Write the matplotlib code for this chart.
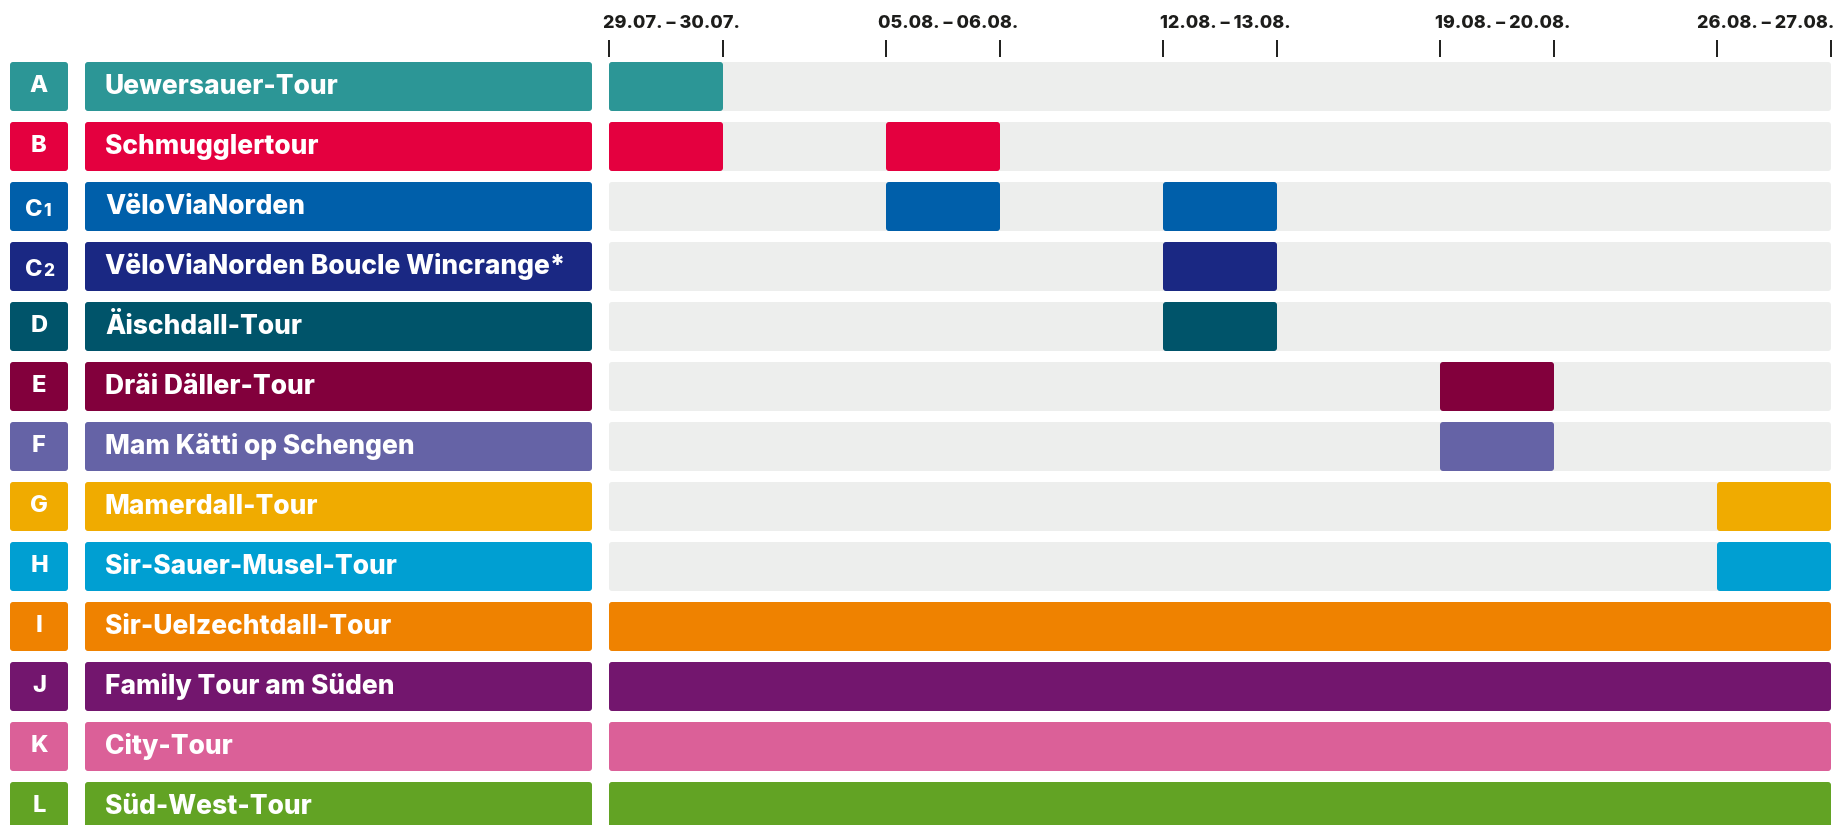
import matplotlib
matplotlib.use("Agg")
import matplotlib.pyplot as plt
from matplotlib.patches import FancyBboxPatch

plt.rcParams["font.family"] = ["Inter", "DejaVu Sans"]

# tours, top to bottom
letters = ["A", "B", "C", "C", "D", "E", "F", "G", "H", "I", "J", "K", "L"]
letter_subs = ["", "", "1", "2", "", "", "", "", "", "", "", "", ""]
names = [
    "Uewersauer-Tour",
    "Schmugglertour",
    "VëloViaNorden",
    "VëloViaNorden Boucle Wincrange*",
    "Äischdall-Tour",
    "Dräi Däller-Tour",
    "Mam Kätti op Schengen",
    "Mamerdall-Tour",
    "Sir-Sauer-Musel-Tour",
    "Sir-Uelzechtdall-Tour",
    "Family Tour am Süden",
    "City-Tour",
    "Süd-West-Tour",
]
colors = [
    "#2c9696", "#e4003f", "#005faa", "#1a2883", "#00546a", "#82003c", "#6563a6",
    "#f0ab00", "#009fd2", "#ef8200", "#73166e", "#db6098", "#62a324",
]
# weekend slots (index into periods) on which each tour runs; None = every weekend
tour_slots = [[0], [0, 1], [1, 2], [2], [2], [3], [3], [4], [4], None, None, None, None]
periods = ["29.07. – 30.07.", "05.08. – 06.08.", "12.08. – 13.08.",
           "19.08. – 20.08.", "26.08. – 27.08."]

W, H = 1837, 825
SLOT = 114 / 277          # width of a two-day slot in week units
BAR_H = 49 / 60
GREY = "#edeeed"
INK = "#1d1d1b"

fig = plt.figure(figsize=(W / 100, H / 100), dpi=100)

n = len(names)
y_top = -BAR_H / 2 - 5 / 60
y_bot = y_top + (H - 57) / 60


def rounded(ax, x0, y0, w, h, color, rx, aspect):
    ax.add_patch(FancyBboxPatch((x0, y0), w, h,
                                boxstyle=f"round,pad=0,rounding_size={rx}",
                                mutation_aspect=aspect, fc=color, ec="none"))


# left column: letter boxes and tour names
ax_l = fig.add_axes([10 / W, 0, 582 / W, (H - 57) / H])
ax_l.set_xlim(0, 582)
ax_l.set_ylim(y_bot, y_top)
ax_l.axis("off")
for i in range(n):
    y0 = i - BAR_H / 2
    rounded(ax_l, 0, y0, 58, BAR_H, colors[i], 3, 1 / 60)
    rounded(ax_l, 75, y0, 507, BAR_H, colors[i], 3, 1 / 60)
    if letter_subs[i]:
        ax_l.text(33, i + 0.15, letters[i], color="white", fontsize=17,
                  fontweight="heavy", ha="right", va="baseline")
        ax_l.text(33.5, i + 0.15, letter_subs[i], color="white", fontsize=12.5,
                  fontweight="heavy", ha="left", va="baseline")
    else:
        ax_l.text(29, i, letters[i], color="white", fontsize=17,
                  fontweight="heavy", ha="center", va="center")
    ax_l.text(95, i, names[i], color="white", fontsize=19,
              fontweight="heavy", ha="left", va="center")

# right part: weekend timeline
ax = fig.add_axes([609 / W, 0, (1831 - 609) / W, (H - 57) / H])
x_end = len(periods) - 1 + SLOT
ax.set_xlim(0, x_end)
ax.set_ylim(y_bot, y_top)
for s in ax.spines.values():
    s.set_visible(False)
ax.set_yticks([])

rx = 3 / 277
asp = 277 / 60
for i in range(n):
    y0 = i - BAR_H / 2
    if tour_slots[i] is None:
        rounded(ax, 0, y0, x_end, BAR_H, colors[i], rx, asp)
        continue
    rounded(ax, 0, y0, x_end, BAR_H, GREY, rx, asp)
    for k in tour_slots[i]:
        rounded(ax, k, y0, SLOT, BAR_H, colors[i], rx, asp)

starts = list(range(len(periods)))
edges = sorted(starts + [k + SLOT for k in starts])
label_pos = [k + SLOT / 2 + 0.02 for k in starts]
label_pos[-1] = starts[-1] + SLOT / 2 - 0.03   # squeezed against the right edge
ax.xaxis.tick_top()
ax.set_xticks(edges)
ax.set_xticklabels([])
ax.set_xticks(label_pos, minor=True)
ax.set_xticklabels(periods, minor=True, fontsize=13, fontweight="heavy", color=INK)
ax.tick_params(axis="x", which="major", direction="out", length=12, width=1.4,
               color=INK, top=True, bottom=False)
ax.tick_params(axis="x", which="minor", length=0, pad=18, top=True, bottom=False)

fig.savefig("out.png", dpi=100)
